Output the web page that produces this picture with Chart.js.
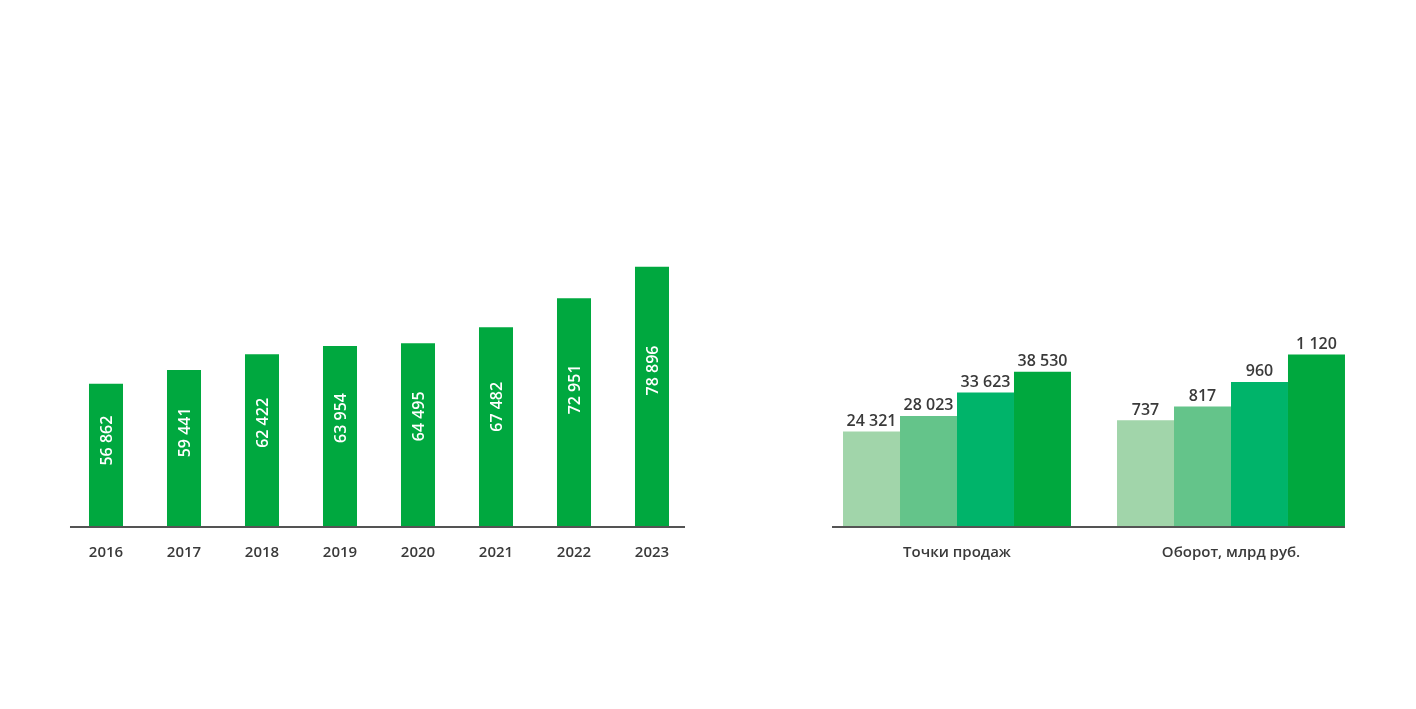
<!DOCTYPE html>
<html>
<head>
<meta charset="utf-8">
<script src="https://cdn.jsdelivr.net/npm/chart.js@4"></script>
<style>
  html, body { margin: 0; padding: 0; background: #fff; }
  body { width: 1416px; height: 709px; position: relative; overflow: hidden; }
  .box { position: absolute; top: 0; height: 709px; }
  #leftBox { left: 0; width: 760px; }
  #rightBox { left: 760px; width: 656px; }
</style>
</head>
<body>
<div class="box" id="leftBox"><canvas id="yearsChart"></canvas></div>
<div class="box" id="rightBox"><canvas id="salesChart"></canvas></div>
<script>
// ---- data ----
const years = ['2016', '2017', '2018', '2019', '2020', '2021', '2022', '2023'];
const yearValues = [56862, 59441, 62422, 63954, 64495, 67482, 72951, 78896];

const groups = ['Точки продаж', 'Оборот, млрд руб.'];
const salePoints = [24321, 28023, 33623, 38530];
const turnover = [737, 817, 960, 1120];

const barColors = ['#a1d5aa', '#64c48a', '#00b46a', '#00a83e'];
const textColor = '#3a3a3a';
const fontFamily = '"Open Sans", sans-serif';

const fmt = (v) => String(v).replace(/\B(?=(\d{3})+(?!\d))/g, ' ');

// baseline drawn under the bars
const baseline = {
  id: 'baseline',
  afterDatasetsDraw(chart, args, opts) {
    const bars = [];
    chart.data.datasets.forEach((ds, i) => {
      chart.getDatasetMeta(i).data.forEach((el, j) => {
        if (ds.data[j] != null) bars.push(el);
      });
    });
    if (!bars.length) return;
    const lefts = bars.map(b => b.x - b.width / 2);
    const rights = bars.map(b => b.x + b.width / 2);
    const y = chart.chartArea.bottom;
    const ctx = chart.ctx;
    ctx.save();
    ctx.strokeStyle = '#545454';
    ctx.lineWidth = 2;
    ctx.beginPath();
    ctx.moveTo(Math.min(...lefts) - opts.padLeft, y + 1);
    ctx.lineTo(Math.max(...rights) + opts.padRight, y + 1);
    ctx.stroke();
    ctx.restore();
  }
};

// rotated white labels inside the year bars
const innerLabels = {
  id: 'innerLabels',
  afterDatasetsDraw(chart) {
    const ctx = chart.ctx;
    const meta = chart.getDatasetMeta(0);
    const bottom = chart.chartArea.bottom;
    ctx.save();
    ctx.fillStyle = '#ffffff';
    ctx.font = '600 16px ' + fontFamily;
    ctx.textAlign = 'center';
    ctx.textBaseline = 'middle';
    meta.data.forEach((bar, i) => {
      const h = bottom - bar.y;
      ctx.save();
      ctx.translate(bar.x + 1, bar.y + h * 0.4);
      ctx.rotate(-Math.PI / 2);
      ctx.fillText(fmt(yearValues[i]), 0, 0);
      ctx.restore();
    });
    ctx.restore();
  }
};

// labels above grouped bars
const topLabels = {
  id: 'topLabels',
  afterDatasetsDraw(chart) {
    const ctx = chart.ctx;
    ctx.save();
    ctx.fillStyle = textColor;
    ctx.font = '600 16px ' + fontFamily;
    ctx.textAlign = 'center';
    ctx.textBaseline = 'bottom';
    chart.data.datasets.forEach((ds, i) => {
      chart.getDatasetMeta(i).data.forEach((bar, j) => {
        if (ds.data[j] == null) return;
        ctx.fillText(fmt(ds.data[j]), bar.x, bar.y - 2);
      });
    });
    ctx.restore();
  }
};

const xTicks = {
  color: textColor,
  padding: 18,
  font: { family: fontFamily, size: 15, weight: '600' }
};

// ---- left chart: by years ----
new Chart(document.getElementById('yearsChart'), {
  type: 'bar',
  data: {
    labels: years,
    datasets: [{
      data: yearValues,
      backgroundColor: '#00a83f',
      categoryPercentage: 1,
      barPercentage: 0.436
    }]
  },
  options: {
    responsive: true,
    maintainAspectRatio: false,
    animation: false,
    layout: { padding: { left: 67, right: 69, top: 261, bottom: 129 } },
    plugins: {
      legend: { display: false },
      tooltip: { enabled: false },
      baseline: { padLeft: 19, padRight: 16 }
    },
    scales: {
      x: {
        grid: { display: false, drawTicks: false },
        border: { display: false },
        ticks: xTicks
      },
      y: { display: false, min: 30000, max: 80000 }
    }
  },
  plugins: [baseline, innerLabels]
});

// ---- right chart: sale points and turnover ----
const salesDatasets = [];
salePoints.forEach((v, i) => {
  salesDatasets.push({
    data: [v, null],
    yAxisID: 'y',
    backgroundColor: barColors[i]
  });
});
turnover.forEach((v, i) => {
  salesDatasets.push({
    data: [null, v],
    yAxisID: 'y2',
    backgroundColor: barColors[i]
  });
});

new Chart(document.getElementById('salesChart'), {
  type: 'bar',
  data: { labels: groups, datasets: salesDatasets },
  options: {
    responsive: true,
    maintainAspectRatio: false,
    animation: false,
    skipNull: true,
    datasets: { bar: { categoryPercentage: 0.832, barPercentage: 1 } },
    layout: { padding: { left: 60, right: 48, top: 327, bottom: 129 } },
    plugins: {
      legend: { display: false },
      tooltip: { enabled: false },
      baseline: { padLeft: 11, padRight: 0 }
    },
    scales: {
      x: {
        grid: { display: false, drawTicks: false },
        border: { display: false },
        ticks: xTicks
      },
      y: { display: false, min: 1800, max: 49200 },
      y2: { display: false, min: 120, max: 1280 }
    }
  },
  plugins: [baseline, topLabels]
});
</script>
</body>
</html>
